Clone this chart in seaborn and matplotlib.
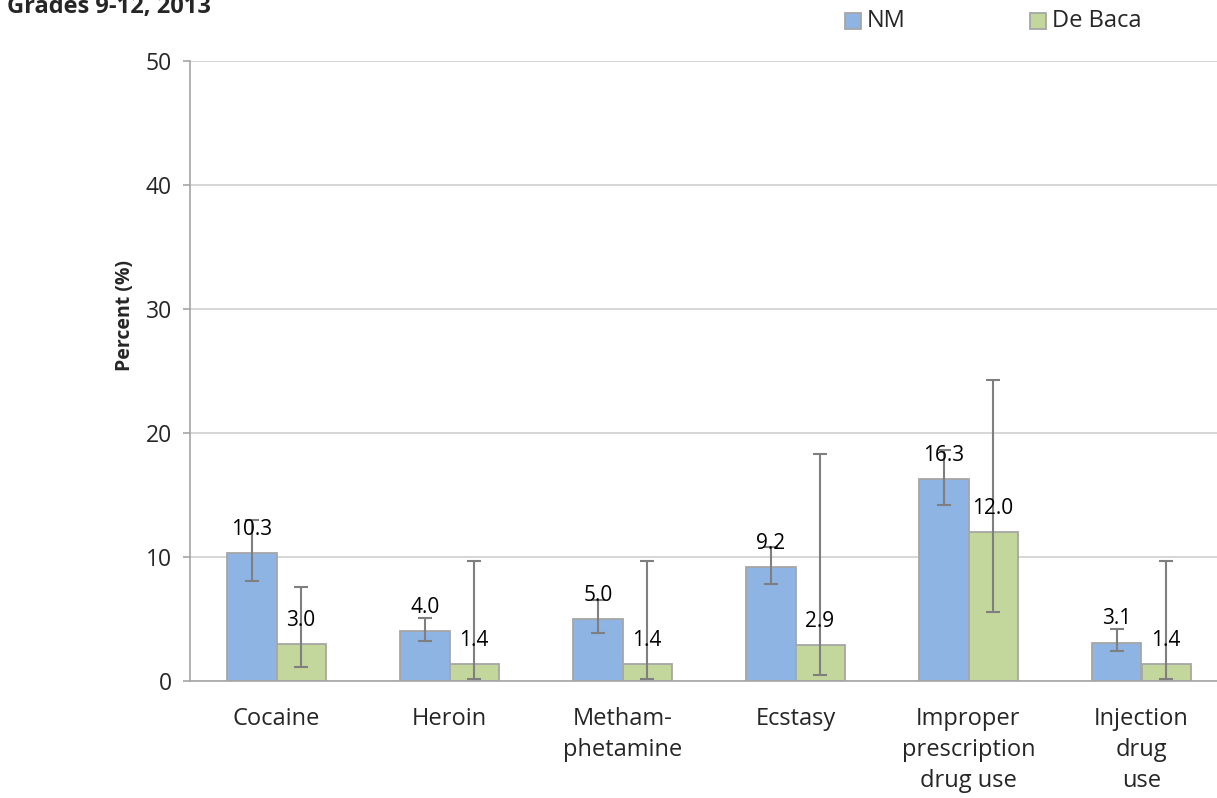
import matplotlib
matplotlib.use("Agg")
import matplotlib.pyplot as plt
import seaborn as sns
import pandas as pd
import numpy as np

# Dữ liệu
categories = ["Cocaine", "Heroin", "Metham-\nphetamine", "Ecstasy",
              "Improper\nprescription\ndrug use", "Injection\ndrug\nuse"]
nm_values = [10.3, 4.0, 5.0, 9.2, 16.3, 3.1]
nm_low = [8.1, 3.2, 3.9, 7.8, 14.2, 2.4]
nm_high = [13.0, 5.1, 6.5, 10.8, 18.6, 4.2]
debaca_values = [3.0, 1.4, 1.4, 2.9, 12.0, 1.4]
debaca_low = [1.1, 0.2, 0.2, 0.5, 5.6, 0.2]
debaca_high = [7.6, 9.7, 9.7, 18.3, 24.3, 9.7]
groups = ["NM", "De Baca"]

data = pd.DataFrame({
    "Category": categories * 2,
    "Group": ["NM"] * 6 + ["De Baca"] * 6,
    "Percent": nm_values + debaca_values,
})
lows = {"NM": nm_low, "De Baca": debaca_low}
highs = {"NM": nm_high, "De Baca": debaca_high}
vals = {"NM": nm_values, "De Baca": debaca_values}

sns.set_style("white")
plt.rcParams['font.family'] = ['Open Sans', 'DejaVu Sans']

fig = plt.figure(figsize=(12.17, 7.98), dpi=100)
ax = fig.add_axes([190 / 1217, 117 / 798, 1038 / 1217, 620 / 798])

ax = sns.barplot(data=data, x="Category", y="Percent", hue="Group",
                 hue_order=groups, order=categories,
                 palette={"NM": "#8EB4E3", "De Baca": "#C3D69B"},
                 errorbar=None, width=0.567, edgecolor="#A6A6A6",
                 linewidth=1.3, saturation=1, ax=ax, legend=False)

# Thanh sai số và nhãn giá trị
for cont, g in zip(ax.containers, groups):
    for p, v, lo, hi in zip(cont.patches, vals[g], lows[g], highs[g]):
        xc = p.get_x() + p.get_width() / 2
        ax.errorbar(xc, v, yerr=[[v - lo], [hi - v]], fmt="none",
                    ecolor="#7F7F7F", elinewidth=1.5, capsize=5, capthick=1.5, zorder=4)
        ax.annotate(f"{v:.1f}", (xc, v), xytext=(0, 17), textcoords="offset points",
                    ha="center", va="center", fontsize=15, color="black", zorder=5)

ax.set_xlim(-0.5, 5.5)
ax.set_ylim(0, 50)
ax.set_yticks([0, 10, 20, 30, 40, 50])
ax.yaxis.grid(True, color="#D0D0D0", linewidth=1.2)
ax.set_axisbelow(True)
for s in ["top", "right"]:
    ax.spines[s].set_visible(False)
for s in ["left", "bottom"]:
    ax.spines[s].set_color("#A6A6A6")
    ax.spines[s].set_linewidth(1.2)

ax.set_xticks(range(6))
ax.set_xticklabels(categories, fontsize=17, linespacing=1.38)
ax.set_xticks(np.arange(-0.5, 6, 1), minor=True)
ax.tick_params(axis="x", which="major", length=0, pad=19)
ax.tick_params(axis="x", which="minor", length=7, color="#A6A6A6", width=1.2)
ax.tick_params(axis="y", length=5, color="#A6A6A6", width=1.2, labelsize=16.5, pad=8, left=True)
ax.set_xlabel("")
ax.set_ylabel("Percent (%)", fontsize=14, fontweight="bold")
ax.yaxis.set_label_coords(-0.0626, 0.59)
ax.yaxis.label.set_va("center")

fig.text(0.006, 1 - 13 / 798, "Grades 9-12, 2013", fontsize=17, fontweight="bold",
         va="baseline", ha="left")

# Chú thích
fig.patches.append(plt.Rectangle((845 / 1217, 1 - 29 / 798), 16 / 1217, 16 / 798,
                                 transform=fig.transFigure, facecolor="#8EB4E3", edgecolor="#A6A6A6", linewidth=1.3))
fig.text(867 / 1217, 1 - 21 / 798, "NM", fontsize=17, va="center")
fig.patches.append(plt.Rectangle((1030 / 1217, 1 - 29 / 798), 16 / 1217, 16 / 798,
                                 transform=fig.transFigure, facecolor="#C3D69B", edgecolor="#A6A6A6", linewidth=1.3))
fig.text(1052 / 1217, 1 - 21 / 798, "De Baca", fontsize=17, va="center")

fig.savefig("out.png", dpi=100)
